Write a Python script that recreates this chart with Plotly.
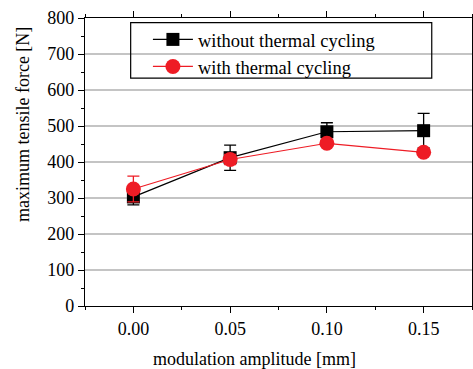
import plotly.graph_objects as go

amplitude = [0.00, 0.05, 0.10, 0.15]
force_without = [303, 412, 484, 487]
err_without = [22, 35, 25, 48]
force_with = [325, 407, 452, 427]
err_with = [36, 14, 8, 8]

y_ticks = [0, 100, 200, 300, 400, 500, 600, 700, 800]
x_ticks = [0.00, 0.05, 0.10, 0.15]
x_ticklabels = ["0.00", "0.05", "0.10", "0.15"]

FONT = "Liberation Serif"

fig = go.Figure()
fig.add_trace(go.Scatter(
    x=amplitude, y=force_without, name="without thermal cycling",
    mode="lines+markers",
    line=dict(color="black", width=1.2),
    marker=dict(symbol="square", size=13, color="black"),
    error_y=dict(type="data", array=err_without, color="black", thickness=1.3, width=6),
))
fig.add_trace(go.Scatter(
    x=amplitude, y=force_with, name="with thermal cycling",
    mode="lines+markers",
    line=dict(color="#ee1c25", width=1.2),
    marker=dict(symbol="circle", size=15, color="#ee1c25"),
    error_y=dict(type="data", array=err_with, color="#ee1c25", thickness=1.3, width=6),
))

fig.update_layout(
    width=473, height=369,
    margin=dict(l=85, r=1, t=18, b=63),
    paper_bgcolor="white", plot_bgcolor="white",
    font=dict(family=FONT, size=18, color="black"),
    showlegend=True,
    legend=dict(
        x=(148 - 85) / 387.5, y=0.99, xanchor="left", yanchor="top",
        bgcolor="rgba(255,255,255,0)", borderwidth=0,
        font=dict(family=FONT, size=18.5, color="black"),
        itemwidth=40, tracegroupgap=0,
    ),
    shapes=[dict(type="rect", xref="paper", yref="paper",
                 x0=0.118, x1=0.896, y0=0.791, y1=0.984,
                 line=dict(color="black", width=1.2), fillcolor="rgba(0,0,0,0)")],
    annotations=[
        dict(text="modulation amplitude [mm]", xref="paper", yref="paper",
             x=(255 - 85) / 387.5, y=-(359 - 306) / 288, xanchor="center", yanchor="middle",
             showarrow=False, font=dict(family=FONT, size=18)),
        dict(text="maximum tensile force [N]", xref="paper", yref="paper",
             x=-(85 - 23) / 387.5, y=(306 - 125) / 288, xanchor="center", yanchor="middle",
             textangle=-90, showarrow=False, font=dict(family=FONT, size=18)),
    ],
)

fig.update_xaxes(
    range=[-0.025, 0.175], tickvals=x_ticks, ticktext=x_ticklabels,
    showgrid=False, zeroline=False, automargin=False,
    showline=True, linecolor="black", linewidth=1.2, mirror="allticks",
    ticks="outside", ticklen=6, tickwidth=1, tickcolor="black",
    minor=dict(dtick=0.025, tick0=0, ticks="outside", ticklen=3, tickcolor="black", showgrid=False),
    tickfont=dict(family=FONT, size=18),
)
fig.update_yaxes(
    range=[0, 800], tickvals=y_ticks,
    showgrid=True, gridcolor="#c4c4c4", gridwidth=1.5, zeroline=False, automargin=False,
    showline=True, linecolor="black", linewidth=1.2, mirror="allticks",
    ticks="outside", ticklen=6, tickwidth=1, tickcolor="black",
    minor=dict(dtick=50, tick0=0, ticks="outside", ticklen=3, tickcolor="black", showgrid=False),
    tickfont=dict(family=FONT, size=18),
)

fig.write_html("out.html", config={"displayModeBar": False},
               post_script="document.body.style.margin='0';")
